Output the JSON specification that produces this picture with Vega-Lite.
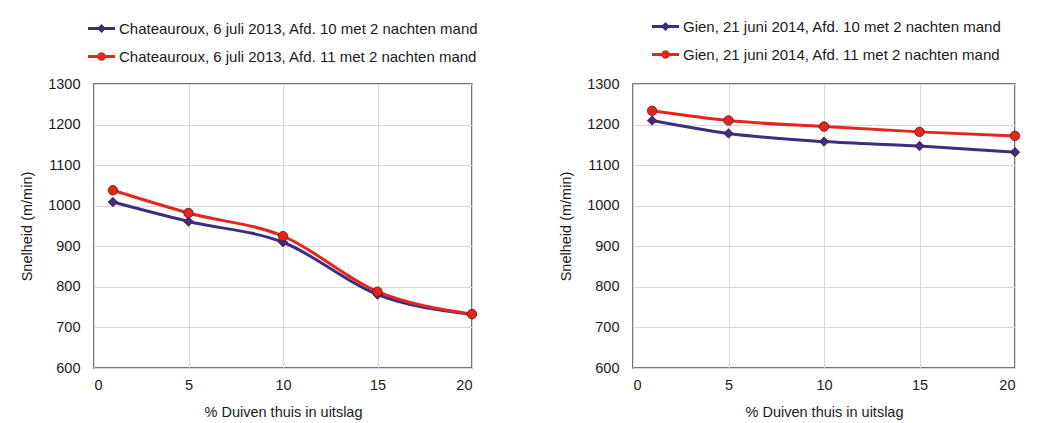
{
  "$schema": "https://vega.github.io/schema/vega-lite/v6.json",
  "background": "white",
  "padding": {"left": 18, "top": 18, "right": 10, "bottom": 5},
  "spacing": 77,
  "config": {
    "font": "Liberation Sans",
    "view": {"stroke": "#4a4a4a", "strokeWidth": 1.5},
    "axis": {
      "labelFont": "Liberation Sans",
      "titleFont": "Liberation Sans",
      "labelFontSize": 14.5,
      "titleFontSize": 14.5,
      "titleFontWeight": "normal",
      "labelColor": "#1a1a1a",
      "titleColor": "#1a1a1a",
      "gridColor": "#d9d9d9",
      "gridWidth": 1,
      "domain": false,
      "ticks": false,
      "tickSize": 0
    },
    "legend": {"labelFont": "Liberation Sans", "labelLimit": 600}
  },
  "resolve": {"scale": {"color": "independent"}, "legend": {"color": "independent"}},
  "hconcat": [
    {
      "width": 378,
      "height": 284,
      "data": {"values": [
        {"serie": "Chateauroux, 6 juli 2013, Afd. 10 met 2 nachten mand", "pct": 1, "snelheid": 1009},
        {"serie": "Chateauroux, 6 juli 2013, Afd. 10 met 2 nachten mand", "pct": 5, "snelheid": 961},
        {"serie": "Chateauroux, 6 juli 2013, Afd. 10 met 2 nachten mand", "pct": 10, "snelheid": 910},
        {"serie": "Chateauroux, 6 juli 2013, Afd. 10 met 2 nachten mand", "pct": 15, "snelheid": 781},
        {"serie": "Chateauroux, 6 juli 2013, Afd. 10 met 2 nachten mand", "pct": 20, "snelheid": 732},
        {"serie": "Chateauroux, 6 juli 2013, Afd. 11 met 2 nachten mand", "pct": 1, "snelheid": 1038},
        {"serie": "Chateauroux, 6 juli 2013, Afd. 11 met 2 nachten mand", "pct": 5, "snelheid": 982},
        {"serie": "Chateauroux, 6 juli 2013, Afd. 11 met 2 nachten mand", "pct": 10, "snelheid": 925},
        {"serie": "Chateauroux, 6 juli 2013, Afd. 11 met 2 nachten mand", "pct": 15, "snelheid": 788},
        {"serie": "Chateauroux, 6 juli 2013, Afd. 11 met 2 nachten mand", "pct": 20, "snelheid": 733}
      ]},
      "encoding": {
        "x": {"field": "pct", "type": "quantitative", "scale": {"domain": [0, 20]},
              "axis": {"values": [0, 5, 10, 15, 20], "format": "d", "title": "% Duiven thuis in uitslag", "labelPadding": 10, "titlePadding": 14}},
        "y": {"field": "snelheid", "type": "quantitative", "scale": {"domain": [600, 1300]},
              "axis": {"values": [600, 700, 800, 900, 1000, 1100, 1200, 1300], "format": "d", "title": "Snelheid (m/min)", "labelPadding": 14, "titlePadding": 13}},
        "color": {"field": "serie", "type": "nominal",
                  "scale": {"domain": ["Chateauroux, 6 juli 2013, Afd. 10 met 2 nachten mand", "Chateauroux, 6 juli 2013, Afd. 11 met 2 nachten mand"], "range": ["#3b2d80", "#e6261d"]},
                  "legend": {"orient": "none", "legendX": 0, "legendY": -63, "title": null, "direction": "vertical",
                        "labelFontSize": 15, "labelColor": "#1a1a1a", "symbolSize": 100, "labelOffset": 10, "rowPadding": 12, "padding": 0, "labelLimit": 600,
                        "encode": {"symbols": {"update": {
                          "shape": {"signal": "datum.value === 'Chateauroux, 6 juli 2013, Afd. 10 met 2 nachten mand' ? 'M-2.7,-0.3H2.7V0.3H-2.7Z M0,-0.9L0.9,0L0,0.9L-0.9,0Z' : 'M-2.7,-0.3H2.7V0.3H-2.7Z M0.85,0A0.85,0.85,0,1,1,-0.85,0A0.85,0.85,0,1,1,0.85,0Z'"},
                          "fill": {"signal": "datum.value === 'Chateauroux, 6 juli 2013, Afd. 10 met 2 nachten mand' ? '#3b2d80' : '#e6261d'"},
                          "stroke": {"value": "transparent"},
                          "strokeWidth": {"value": 0},
                          "opacity": {"value": 1}
                        }}}}}
      },
      "layer": [
        {"mark": {"type": "line", "interpolate": "monotone", "strokeWidth": 3}},
        {"mark": {"type": "point", "filled": true, "opacity": 1, "strokeWidth": 0.8, "stroke": "#5a1a1a", "size": 90},
         "encoding": {
           "shape": {"field": "serie", "type": "nominal", "scale": {"domain": ["Chateauroux, 6 juli 2013, Afd. 10 met 2 nachten mand", "Chateauroux, 6 juli 2013, Afd. 11 met 2 nachten mand"], "range": ["diamond", "circle"]}, "legend": null}
         }}
      ]
    },
    {
      "width": 382,
      "height": 284,
      "data": {"values": [
        {"serie": "Gien, 21 juni 2014, Afd. 10 met 2 nachten mand", "pct": 1, "snelheid": 1210},
        {"serie": "Gien, 21 juni 2014, Afd. 10 met 2 nachten mand", "pct": 5, "snelheid": 1178},
        {"serie": "Gien, 21 juni 2014, Afd. 10 met 2 nachten mand", "pct": 10, "snelheid": 1158},
        {"serie": "Gien, 21 juni 2014, Afd. 10 met 2 nachten mand", "pct": 15, "snelheid": 1147},
        {"serie": "Gien, 21 juni 2014, Afd. 10 met 2 nachten mand", "pct": 20, "snelheid": 1132},
        {"serie": "Gien, 21 juni 2014, Afd. 11 met 2 nachten mand", "pct": 1, "snelheid": 1234},
        {"serie": "Gien, 21 juni 2014, Afd. 11 met 2 nachten mand", "pct": 5, "snelheid": 1210},
        {"serie": "Gien, 21 juni 2014, Afd. 11 met 2 nachten mand", "pct": 10, "snelheid": 1195},
        {"serie": "Gien, 21 juni 2014, Afd. 11 met 2 nachten mand", "pct": 15, "snelheid": 1182},
        {"serie": "Gien, 21 juni 2014, Afd. 11 met 2 nachten mand", "pct": 20, "snelheid": 1172}
      ]},
      "encoding": {
        "x": {"field": "pct", "type": "quantitative", "scale": {"domain": [0, 20]},
              "axis": {"values": [0, 5, 10, 15, 20], "format": "d", "title": "% Duiven thuis in uitslag", "labelPadding": 10, "titlePadding": 14}},
        "y": {"field": "snelheid", "type": "quantitative", "scale": {"domain": [600, 1300]},
              "axis": {"values": [600, 700, 800, 900, 1000, 1100, 1200, 1300], "format": "d", "title": "Snelheid (m/min)", "labelPadding": 14, "titlePadding": 13}},
        "color": {"field": "serie", "type": "nominal",
                  "scale": {"domain": ["Gien, 21 juni 2014, Afd. 10 met 2 nachten mand", "Gien, 21 juni 2014, Afd. 11 met 2 nachten mand"], "range": ["#3b2d80", "#e6261d"]},
                  "legend": {"orient": "none", "legendX": 25, "legendY": -65, "title": null, "direction": "vertical",
                        "labelFontSize": 15, "labelColor": "#1a1a1a", "symbolSize": 100, "labelOffset": 10, "rowPadding": 12, "padding": 0, "labelLimit": 600,
                        "encode": {"symbols": {"update": {
                          "shape": {"signal": "datum.value === 'Gien, 21 juni 2014, Afd. 10 met 2 nachten mand' ? 'M-2.7,-0.3H2.7V0.3H-2.7Z M0,-0.9L0.9,0L0,0.9L-0.9,0Z' : 'M-2.7,-0.3H2.7V0.3H-2.7Z M0.85,0A0.85,0.85,0,1,1,-0.85,0A0.85,0.85,0,1,1,0.85,0Z'"},
                          "fill": {"signal": "datum.value === 'Gien, 21 juni 2014, Afd. 10 met 2 nachten mand' ? '#3b2d80' : '#e6261d'"},
                          "stroke": {"value": "transparent"},
                          "strokeWidth": {"value": 0},
                          "opacity": {"value": 1}
                        }}}}}
      },
      "layer": [
        {"mark": {"type": "line", "interpolate": "monotone", "strokeWidth": 3}},
        {"mark": {"type": "point", "filled": true, "opacity": 1, "strokeWidth": 0.8, "stroke": "#5a1a1a", "size": 90},
         "encoding": {
           "shape": {"field": "serie", "type": "nominal", "scale": {"domain": ["Gien, 21 juni 2014, Afd. 10 met 2 nachten mand", "Gien, 21 juni 2014, Afd. 11 met 2 nachten mand"], "range": ["diamond", "circle"]}, "legend": null}
         }}
      ]
    }
  ]
}
